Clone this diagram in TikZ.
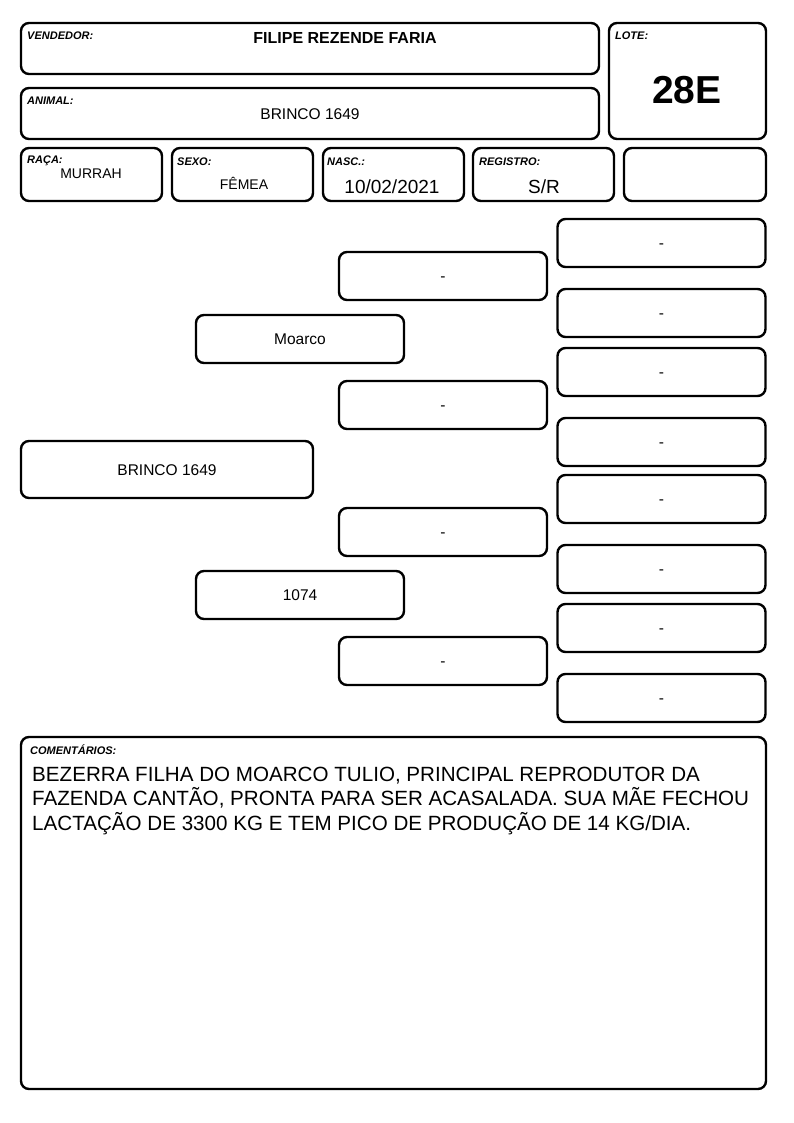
\documentclass[tikz,border=0pt]{standalone}
\usepackage{fontspec}
\setmainfont{Liberation Sans}
\begin{document}
\begin{tikzpicture}
    [x=1pt, y=-1pt,
    box/.style={draw, line width=2.4pt, rounded corners=8pt, inner sep=0pt},
    lbl/.style={anchor=north west, inner sep=0pt, font=\fontsize{11}{13}\selectfont\bfseries\itshape},
    val/.style={anchor=base, inner sep=0pt, font=\fontsize{14}{16}\selectfont},
    ped/.style={box, minimum width=208pt, minimum height=48pt, text height=11pt, text depth=0pt,
      font=\fontsize{15.5}{18}\selectfont}]
    \useasboundingbox (0,0) rectangle (794,1123);
    % cabecalho
    \node[box, minimum width=578pt, minimum height=51pt] (vend) at (310,48.5) {};
    \node[lbl] (vendlbl) at (27,31.5) {VENDEDOR:};
    \node[val, font=\fontsize{16}{18}\selectfont\bfseries] (vendval) at (345,43.5) {FILIPE REZENDE FARIA};
    \node[box, minimum width=578pt, minimum height=51pt] (anim) at (310,113.5) {};
    \node[lbl] (animlbl) at (27,96.5) {ANIMAL:};
    \node[val, font=\fontsize{15.5}{18}\selectfont] (animval) at (310,119.3) {BRINCO 1649};
    \node[box, minimum width=157pt, minimum height=116pt] (lote) at (687.5,81) {};
    \node[lbl] (lotelbl) at (615,31.5) {LOTE:};
    \node[val, font=\fontsize{39}{44}\selectfont\bfseries] (loteval) at (687,104) {28E};
    % linha de dados
    \node[box, minimum width=141pt, minimum height=53pt] (raca) at (91.5,174.5) {};
    \node[lbl] (racalbl) at (27,155.5) {RAÇA:};
    \node[val] (racaval) at (91,178.3) {MURRAH};
    \node[box, minimum width=141pt, minimum height=53pt] (sexo) at (242.5,174.5) {};
    \node[lbl] (sexolbl) at (177,157.5) {SEXO:};
    \node[val] (sexoval) at (244,189.5) {FÊMEA};
    \node[box, minimum width=141pt, minimum height=53pt] (nasc) at (393.5,174.5) {};
    \node[lbl] (nasclbl) at (327,157.5) {NASC.:};
    \node[val, font=\fontsize{19}{22}\selectfont] (nascval) at (392,193.5) {10/02/2021};
    \node[box, minimum width=141pt, minimum height=53pt] (reg) at (543.5,174.5) {};
    \node[lbl] (reglbl) at (479,157.5) {REGISTRO:};
    \node[val, font=\fontsize{19}{22}\selectfont] (regval) at (544,193.5) {S/R};
    \node[box, minimum width=142pt, minimum height=53pt] (vazio) at (695,174.5) {};
    % genealogia
    \node[ped, minimum width=292pt, minimum height=57pt] (animal) at (167,469.5) {BRINCO 1649};
    \node[ped] (pai) at (300,339) {Moarco};
    \node[ped] (mae) at (300,595) {1074};
    \node[ped] (avo1) at (443,276) {-};
    \node[ped] (avo2) at (443,405) {-};
    \node[ped] (avo3) at (443,532) {-};
    \node[ped] (avo4) at (443,661) {-};
    \node[ped] (bis1) at (661.5,243) {-};
    \node[ped] (bis2) at (661.5,313) {-};
    \node[ped] (bis3) at (661.5,372) {-};
    \node[ped] (bis4) at (661.5,442) {-};
    \node[ped] (bis5) at (661.5,499) {-};
    \node[ped] (bis6) at (661.5,569) {-};
    \node[ped] (bis7) at (661.5,628) {-};
    \node[ped] (bis8) at (661.5,698) {-};
    % comentarios
    \node[box, minimum width=745pt, minimum height=352pt] (coment) at (393.5,913) {};
    \node[lbl] (comentlbl) at (30,744.5) {COMENTÁRIOS:};
    \node[anchor=north west, inner sep=0pt, align=left, font=\fontsize{20.6}{24.5}\selectfont] (comenttxt) at (32,766.5)
      {BEZERRA FILHA DO MOARCO TULIO, PRINCIPAL REPRODUTOR DA\\
       FAZENDA CANTÃO, PRONTA PARA SER ACASALADA. SUA MÃE FECHOU\\
       LACTAÇÃO DE 3300 KG E TEM PICO DE PRODUÇÃO DE 14 KG/DIA.};
\end{tikzpicture}
\end{document}
